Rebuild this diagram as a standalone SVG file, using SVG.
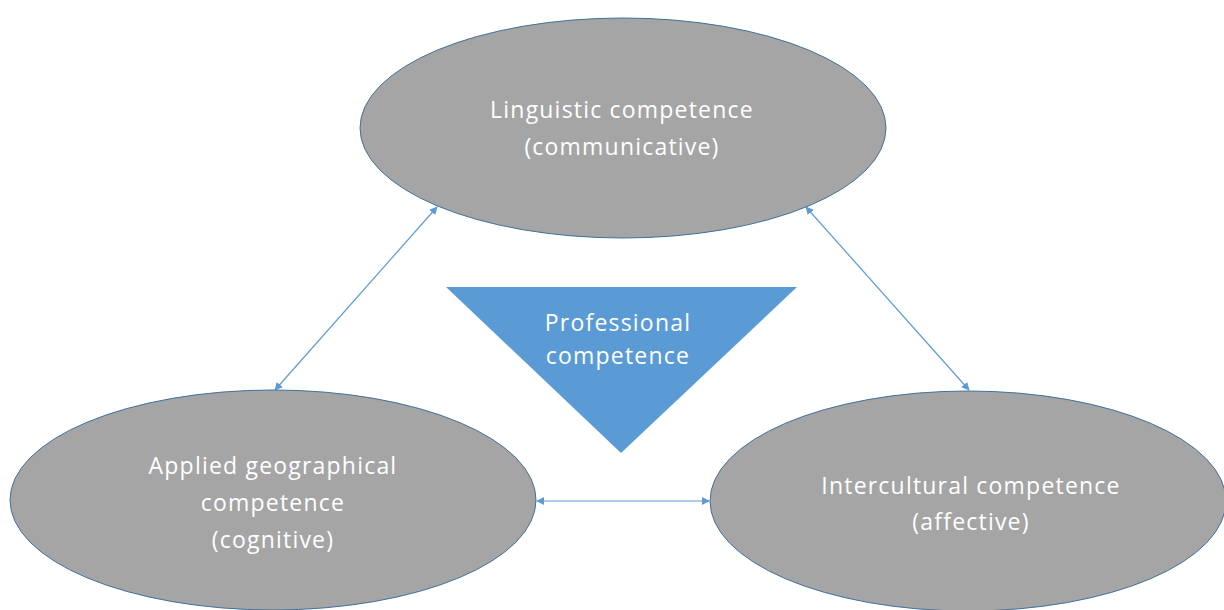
<svg xmlns="http://www.w3.org/2000/svg" width="1224" height="610" viewBox="0 0 1224 610">
<defs>
<style>
.node{fill:#a5a5a5;stroke:#41719c;stroke-width:1}
.lbl{font-family:"Open Sans","Noto Sans",sans-serif;font-size:23px;letter-spacing:1.2px;fill:#ffffff;text-anchor:middle}
.conn{stroke:#5b9bd5;stroke-width:1.2;fill:none;marker-start:url(#ah);marker-end:url(#ah)}
</style>
<marker id="ah" viewBox="0 0 10 10" refX="9" refY="5" markerWidth="8" markerHeight="8" orient="auto-start-reverse" markerUnits="userSpaceOnUse">
<path d="M0,0 L10,5 L0,10 z" fill="#5b9bd5"/>
</marker>
</defs>
<rect width="1224" height="610" fill="#ffffff"/>
<g id="connectors">
<line class="conn" x1="275" y1="390" x2="437" y2="207"/>
<line class="conn" x1="806" y1="207" x2="969" y2="390"/>
<line class="conn" x1="537" y1="501" x2="709" y2="501"/>
</g>
<g id="linguistic">
<ellipse class="node" cx="623" cy="128" rx="263" ry="110"/>
<text class="lbl" x="622" y="118">Linguistic competence</text>
<text class="lbl" x="622" y="155">(communicative)</text>
</g>
<g id="professional">
<polygon points="446,287 797,287 621,453" fill="#5b9bd5"/>
<text class="lbl" x="618" y="331">Professional</text>
<text class="lbl" x="618" y="364">competence</text>
</g>
<g id="applied">
<ellipse class="node" cx="273" cy="500" rx="263" ry="110"/>
<text class="lbl" x="273" y="474">Applied geographical</text>
<text class="lbl" x="273" y="511">competence</text>
<text class="lbl" x="273" y="548">(cognitive)</text>
</g>
<g id="intercultural">
<ellipse class="node" cx="968" cy="501" rx="258" ry="110"/>
<text class="lbl" x="971" y="494">Intercultural competence</text>
<text class="lbl" x="971" y="530">(affective)</text>
</g>
</svg>
